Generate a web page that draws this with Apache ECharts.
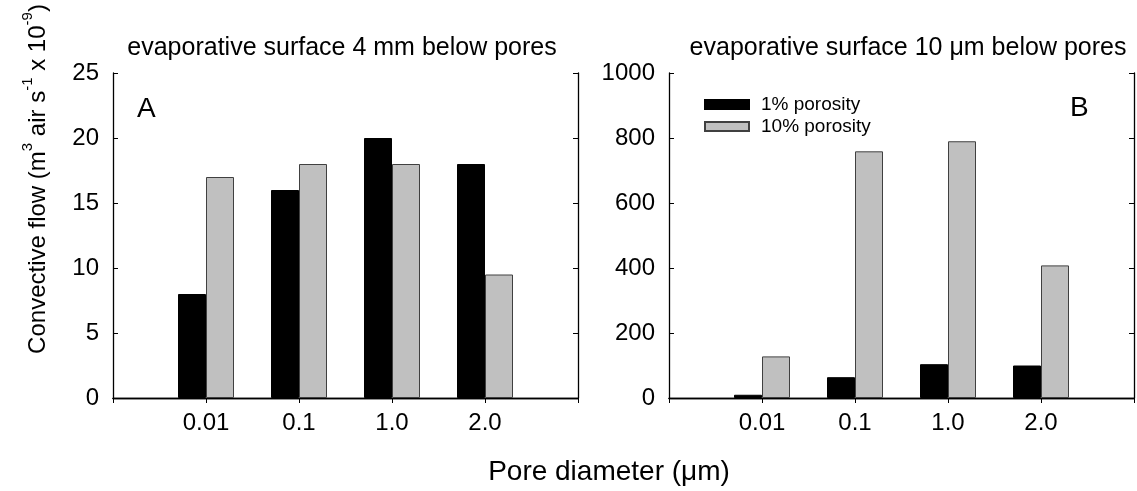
<!DOCTYPE html>
<html>
<head>
<meta charset="utf-8">
<script src="https://cdn.jsdelivr.net/npm/echarts@6/dist/echarts.min.js"></script>
<style>
html,body{margin:0;padding:0;background:#fff;}
#chart{width:1137px;height:491px;}
</style>
</head>
<body>
<div id="chart"></div>
<script>
// ---- data ----
var categories = ['0.01', '0.1', '1.0', '2.0'];
var seriesNames = ['1% porosity', '10% porosity'];
// Panel A: evaporative surface 4 mm below pores
var panelA_1pct = [8, 16, 20, 18];
var panelA_10pct = [17, 18, 18, 9.5];
// Panel B: evaporative surface 10 µm below pores
var panelB_1pct = [10, 64, 104, 100];
var panelB_10pct = [128, 759, 790, 408];
var panelTitles = ['evaporative surface 4 mm below pores', 'evaporative surface 10 \u03bcm below pores'];
var panelLetters = ['A', 'B'];
var yTicksA = {min: 0, max: 25, interval: 5};
var yTicksB = {min: 0, max: 1000, interval: 200};

// pad categories with empty slots at both ends
var cats = [''].concat(categories).concat(['']);
function pad(arr) { return [null].concat(arr).concat([null]); }

var FONT = 'Liberation Sans, Arial, sans-serif';
var grids = [
  {left: 113, top: 73, width: 465, height: 325},
  {left: 669, top: 73, width: 465, height: 325}
];

var xAxes = [], yAxes = [], series = [];
[0, 1].forEach(function (g) {
  xAxes.push({
    type: 'category', gridIndex: g, data: cats, boundaryGap: false, position: 'bottom',
    axisLine: {lineStyle: {color: '#000', width: 1.3}},
    axisTick: {show: false},
    axisLabel: {fontSize: 24, color: '#000', fontFamily: FONT, margin: 13, interval: 0},
    splitLine: {show: false}
  });
  xAxes.push({
    type: 'category', gridIndex: g, data: cats, boundaryGap: false, position: 'top',
    axisLine: {lineStyle: {color: '#000', width: 1.3}},
    axisTick: {show: true, inside: true, length: 5, lineStyle: {color: '#000', width: 1}, interval: 0},
    axisLabel: {show: false},
    splitLine: {show: false}
  });
  var yt = g === 0 ? yTicksA : yTicksB;
  yAxes.push({
    type: 'value', gridIndex: g, position: 'left', min: yt.min, max: yt.max, interval: yt.interval,
    axisLine: {show: true, lineStyle: {color: '#000', width: 1.3}},
    axisTick: {show: true, inside: true, length: 5, lineStyle: {color: '#000', width: 1}},
    axisLabel: {fontSize: 24, color: '#000', fontFamily: FONT, margin: 14,
      formatter: function (v) { return String(v); }},
    splitLine: {show: false}
  });
  yAxes.push({
    type: 'value', gridIndex: g, position: 'right', min: yt.min, max: yt.max, interval: yt.interval,
    axisLine: {show: true, lineStyle: {color: '#000', width: 1.3}},
    axisTick: {show: true, inside: true, length: 5, lineStyle: {color: '#000', width: 1}},
    axisLabel: {show: false},
    splitLine: {show: false}
  });
});

function barSeries(name, data, g, color, border) {
  return {
    name: name, type: 'bar', xAxisIndex: g * 2, yAxisIndex: g * 2,
    data: pad(data), barWidth: 28, barGap: '0%',
    itemStyle: {color: color, borderColor: border, borderWidth: 1},
    emphasis: {disabled: true}, animation: false
  };
}
series.push(barSeries(seriesNames[0], panelA_1pct, 0, '#000000', '#000000'));
series.push(barSeries(seriesNames[1], panelA_10pct, 0, '#c0c0c0', '#404040'));
series.push(barSeries(seriesNames[0], panelB_1pct, 1, '#000000', '#000000'));
series.push(barSeries(seriesNames[1], panelB_10pct, 1, '#c0c0c0', '#404040'));

var chart = echarts.init(document.getElementById('chart'), null, {renderer: 'canvas'});
chart.setOption({
  animation: false,
  backgroundColor: '#fff',
  grid: grids,
  xAxis: xAxes,
  yAxis: yAxes,
  series: series,
  legend: {
    data: seriesNames,
    orient: 'vertical', left: 704, top: 95, padding: 0, itemWidth: 44, itemHeight: 9, itemGap: 3,
    icon: 'rect',
    textStyle: {fontSize: 19, color: '#000', fontFamily: FONT, padding: [0, 0, 0, 7]},
    selectedMode: false
  },
  graphic: [
    {type: 'text', x: 342, y: 48, style: {text: panelTitles[0], fontSize: 25, fontFamily: FONT, fill: '#000', align: 'center', verticalAlign: 'middle'}},
    {type: 'text', x: 908, y: 48, style: {text: panelTitles[1], fontSize: 25, fontFamily: FONT, fill: '#000', align: 'center', verticalAlign: 'middle'}},
    {type: 'text', x: 137, y: 109, style: {text: panelLetters[0], fontSize: 28, fontFamily: FONT, fill: '#000', align: 'left', verticalAlign: 'middle'}},
    {type: 'text', x: 1070, y: 108, style: {text: panelLetters[1], fontSize: 28, fontFamily: FONT, fill: '#000', align: 'left', verticalAlign: 'middle'}},
    {type: 'text', x: 609, y: 472, style: {text: 'Pore diameter (\u03bcm)', fontSize: 28, fontFamily: FONT, fill: '#000', align: 'center', verticalAlign: 'middle'}},
    {type: 'text', x: 35, y: 179, rotation: Math.PI / 2,
      style: {
        text: '{n|Convective flow (m}{s|3}{n| air s}{s|-1}{n| x 10}{s|-9}{n|)}',
        align: 'center', verticalAlign: 'middle', fill: '#000',
        rich: {
          n: {fontSize: 24, fontFamily: FONT, fill: '#000', lineHeight: 30, verticalAlign: 'bottom'},
          s: {fontSize: 15, fontFamily: FONT, fill: '#000', lineHeight: 15, verticalAlign: 'top'}
        }
      }
    }
  ]
});
</script>
</body>
</html>
